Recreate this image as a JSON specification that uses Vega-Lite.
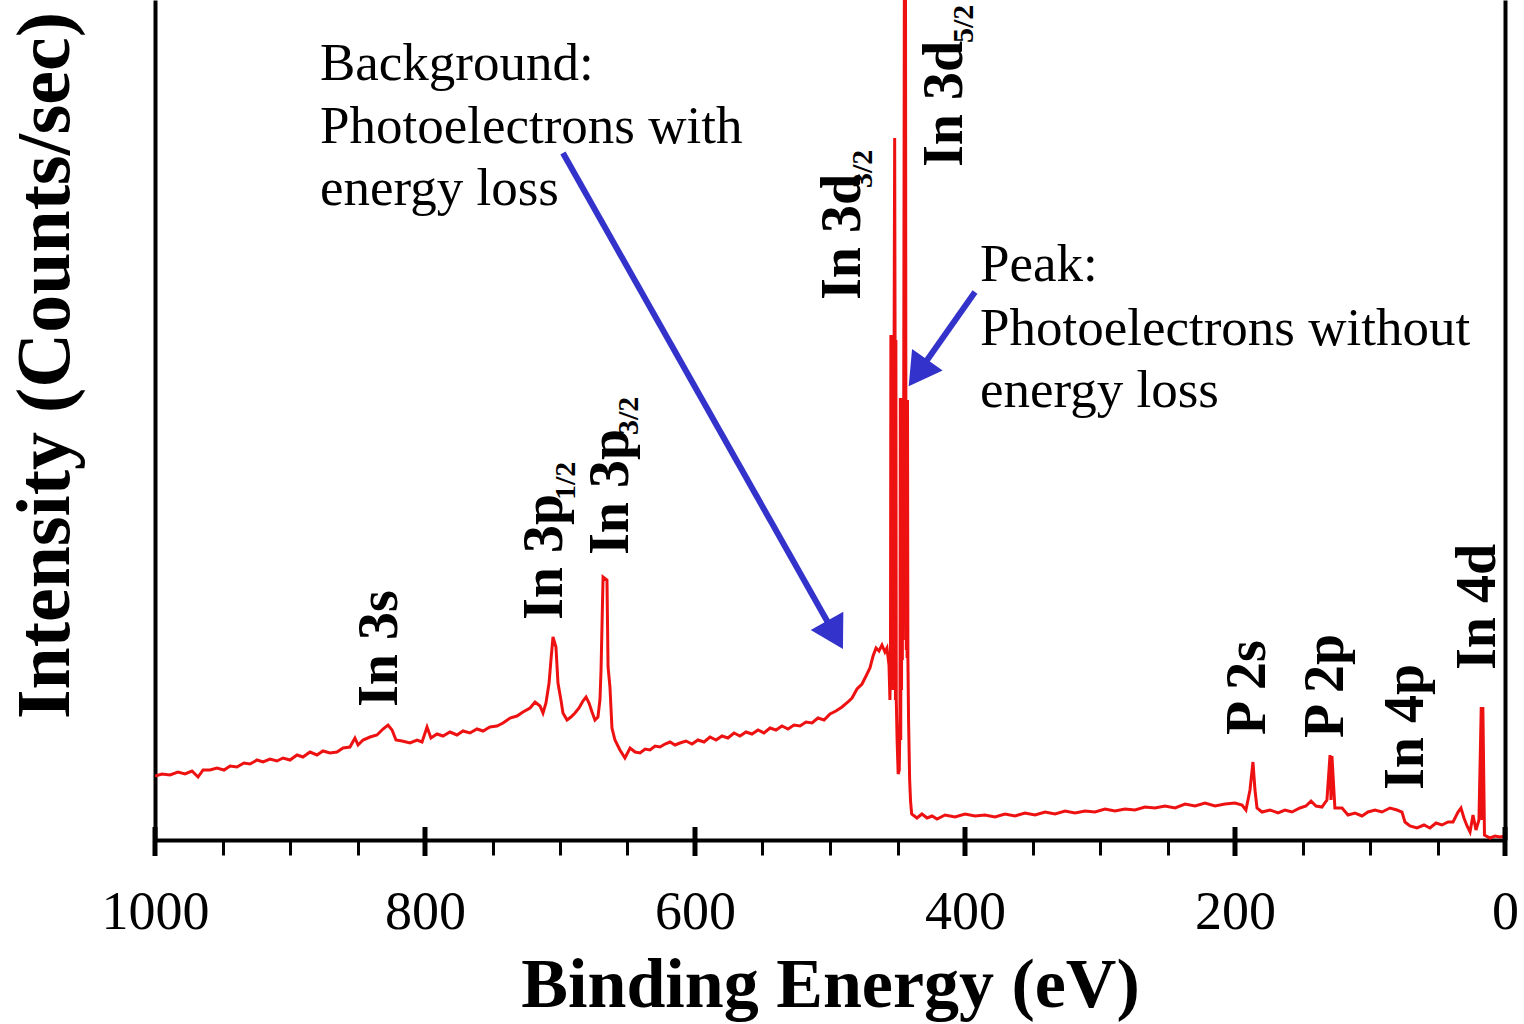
{
  "$schema": "https://vega.github.io/schema/vega-lite/v6.json",
  "width": 1350,
  "height": 840,
  "autosize": {"type": "none"},
  "padding": {"left": 155, "top": 0, "right": 19, "bottom": 184},
  "background": "white",
  "config": {"view": {"stroke": null}, "font": "Liberation Serif"},
  "datasets": {
    "spectrum": [
      {"energy": 1000.0, "intensity": 64}, {"energy": 994.8, "intensity": 66}, {"energy": 988.9, "intensity": 65},
      {"energy": 983.0, "intensity": 68}, {"energy": 977.8, "intensity": 66}, {"energy": 972.6, "intensity": 69},
      {"energy": 968.1, "intensity": 63}, {"energy": 964.4, "intensity": 70}, {"energy": 959.3, "intensity": 70},
      {"energy": 954.1, "intensity": 72}, {"energy": 948.9, "intensity": 70}, {"energy": 944.4, "intensity": 74},
      {"energy": 939.3, "intensity": 73}, {"energy": 934.1, "intensity": 77}, {"energy": 929.6, "intensity": 76},
      {"energy": 924.4, "intensity": 80}, {"energy": 920.0, "intensity": 78}, {"energy": 914.8, "intensity": 81},
      {"energy": 909.6, "intensity": 79}, {"energy": 905.2, "intensity": 82}, {"energy": 900.0, "intensity": 80},
      {"energy": 894.8, "intensity": 85}, {"energy": 890.4, "intensity": 83}, {"energy": 885.2, "intensity": 88},
      {"energy": 880.0, "intensity": 85}, {"energy": 875.6, "intensity": 89}, {"energy": 870.4, "intensity": 87},
      {"energy": 865.2, "intensity": 88}, {"energy": 860.7, "intensity": 92}, {"energy": 855.6, "intensity": 93},
      {"energy": 851.9, "intensity": 102}, {"energy": 849.6, "intensity": 95}, {"energy": 845.9, "intensity": 100},
      {"energy": 840.7, "intensity": 103}, {"energy": 835.6, "intensity": 105}, {"energy": 831.1, "intensity": 111},
      {"energy": 827.4, "intensity": 115}, {"energy": 824.4, "intensity": 110}, {"energy": 821.5, "intensity": 100},
      {"energy": 817.0, "intensity": 99}, {"energy": 811.1, "intensity": 97}, {"energy": 805.9, "intensity": 100},
      {"energy": 802.2, "intensity": 98}, {"energy": 798.5, "intensity": 113}, {"energy": 795.6, "intensity": 102},
      {"energy": 791.1, "intensity": 106}, {"energy": 786.7, "intensity": 104}, {"energy": 781.5, "intensity": 108},
      {"energy": 776.3, "intensity": 105}, {"energy": 771.9, "intensity": 109}, {"energy": 766.7, "intensity": 107},
      {"energy": 761.5, "intensity": 111}, {"energy": 757.0, "intensity": 109}, {"energy": 751.9, "intensity": 113},
      {"energy": 746.7, "intensity": 114}, {"energy": 742.2, "intensity": 117}, {"energy": 737.0, "intensity": 122},
      {"energy": 731.9, "intensity": 124}, {"energy": 727.4, "intensity": 128}, {"energy": 722.2, "intensity": 132},
      {"energy": 718.5, "intensity": 138}, {"energy": 714.8, "intensity": 134}, {"energy": 712.6, "intensity": 127},
      {"energy": 710.4, "intensity": 137}, {"energy": 708.1, "intensity": 157}, {"energy": 706.7, "intensity": 180},
      {"energy": 705.2, "intensity": 203}, {"energy": 703.0, "intensity": 193}, {"energy": 701.5, "intensity": 157},
      {"energy": 699.3, "intensity": 140}, {"energy": 697.8, "intensity": 127}, {"energy": 694.8, "intensity": 120},
      {"energy": 691.9, "intensity": 123}, {"energy": 688.9, "intensity": 127}, {"energy": 685.9, "intensity": 132},
      {"energy": 683.0, "intensity": 139}, {"energy": 680.7, "intensity": 143}, {"energy": 678.5, "intensity": 137},
      {"energy": 676.3, "intensity": 128}, {"energy": 674.1, "intensity": 120}, {"energy": 671.9, "intensity": 123},
      {"energy": 670.4, "intensity": 140}, {"energy": 669.6, "intensity": 170}, {"energy": 668.1, "intensity": 263},
      {"energy": 665.2, "intensity": 260}, {"energy": 664.4, "intensity": 173}, {"energy": 663.0, "intensity": 153},
      {"energy": 661.5, "intensity": 112}, {"energy": 659.3, "intensity": 100}, {"energy": 655.6, "intensity": 90},
      {"energy": 651.9, "intensity": 82}, {"energy": 648.1, "intensity": 92}, {"energy": 644.4, "intensity": 88},
      {"energy": 640.7, "intensity": 87}, {"energy": 637.0, "intensity": 91}, {"energy": 633.3, "intensity": 90},
      {"energy": 629.6, "intensity": 94}, {"energy": 625.9, "intensity": 93}, {"energy": 622.2, "intensity": 96},
      {"energy": 618.5, "intensity": 98}, {"energy": 614.8, "intensity": 95}, {"energy": 611.1, "intensity": 97},
      {"energy": 606.7, "intensity": 99}, {"energy": 602.2, "intensity": 96}, {"energy": 597.8, "intensity": 100},
      {"energy": 593.3, "intensity": 98}, {"energy": 588.9, "intensity": 103}, {"energy": 584.4, "intensity": 100},
      {"energy": 580.0, "intensity": 104}, {"energy": 575.6, "intensity": 102}, {"energy": 571.1, "intensity": 107},
      {"energy": 566.7, "intensity": 104}, {"energy": 562.2, "intensity": 108}, {"energy": 557.8, "intensity": 106},
      {"energy": 553.3, "intensity": 110}, {"energy": 548.9, "intensity": 107}, {"energy": 544.4, "intensity": 112},
      {"energy": 540.0, "intensity": 110}, {"energy": 535.6, "intensity": 114}, {"energy": 531.1, "intensity": 111},
      {"energy": 526.7, "intensity": 115}, {"energy": 522.2, "intensity": 114}, {"energy": 517.8, "intensity": 118},
      {"energy": 513.3, "intensity": 117}, {"energy": 508.9, "intensity": 122}, {"energy": 504.4, "intensity": 120},
      {"energy": 500.0, "intensity": 126}, {"energy": 495.6, "intensity": 129}, {"energy": 491.1, "intensity": 133},
      {"energy": 486.7, "intensity": 138}, {"energy": 483.7, "intensity": 142}, {"energy": 480.0, "intensity": 151},
      {"energy": 476.3, "intensity": 156}, {"energy": 473.3, "intensity": 164}, {"energy": 470.4, "intensity": 172},
      {"energy": 468.1, "intensity": 184}, {"energy": 465.9, "intensity": 192}, {"energy": 463.7, "intensity": 189},
      {"energy": 461.5, "intensity": 195}, {"energy": 459.3, "intensity": 188}, {"energy": 457.8, "intensity": 192},
      {"energy": 456.3, "intensity": 175}, {"energy": 455.6, "intensity": 140}, {"energy": 455.2, "intensity": 175},
      {"energy": 454.9, "intensity": 505}, {"energy": 454.6, "intensity": 150}, {"energy": 454.3, "intensity": 505},
      {"energy": 454.0, "intensity": 160}, {"energy": 453.7, "intensity": 500}, {"energy": 453.4, "intensity": 150},
      {"energy": 453.1, "intensity": 505}, {"energy": 452.8, "intensity": 200}, {"energy": 452.5, "intensity": 505},
      {"energy": 452.1, "intensity": 702}, {"energy": 451.8, "intensity": 500}, {"energy": 451.5, "intensity": 140},
      {"energy": 451.2, "intensity": 500}, {"energy": 450.9, "intensity": 140}, {"energy": 450.3, "intensity": 100},
      {"energy": 449.5, "intensity": 66}, {"energy": 448.7, "intensity": 70}, {"energy": 448.2, "intensity": 120},
      {"energy": 447.9, "intensity": 442}, {"energy": 447.6, "intensity": 100}, {"energy": 447.3, "intensity": 440},
      {"energy": 447.0, "intensity": 150}, {"energy": 446.7, "intensity": 442}, {"energy": 446.4, "intensity": 180},
      {"energy": 446.1, "intensity": 440}, {"energy": 445.8, "intensity": 200}, {"energy": 445.4, "intensity": 442},
      {"energy": 444.7, "intensity": 1040}, {"energy": 444.2, "intensity": 1040}, {"energy": 443.8, "intensity": 442},
      {"energy": 443.5, "intensity": 190}, {"energy": 443.2, "intensity": 440}, {"energy": 442.9, "intensity": 182},
      {"energy": 442.6, "intensity": 440}, {"energy": 442.3, "intensity": 182}, {"energy": 441.8, "intensity": 120},
      {"energy": 441.0, "intensity": 60}, {"energy": 440.3, "intensity": 38}, {"energy": 439.5, "intensity": 26},
      {"energy": 435.6, "intensity": 22},
      {"energy": 431.9, "intensity": 26}, {"energy": 428.1, "intensity": 22}, {"energy": 424.4, "intensity": 24},
      {"energy": 420.7, "intensity": 21}, {"energy": 414.8, "intensity": 25}, {"energy": 407.4, "intensity": 23},
      {"energy": 400.0, "intensity": 26}, {"energy": 392.6, "intensity": 24}, {"energy": 385.2, "intensity": 25},
      {"energy": 377.8, "intensity": 23}, {"energy": 370.4, "intensity": 26}, {"energy": 363.0, "intensity": 24},
      {"energy": 355.6, "intensity": 27}, {"energy": 348.1, "intensity": 25}, {"energy": 340.7, "intensity": 28},
      {"energy": 333.3, "intensity": 26}, {"energy": 325.9, "intensity": 29}, {"energy": 318.5, "intensity": 27},
      {"energy": 311.1, "intensity": 29}, {"energy": 303.7, "intensity": 28}, {"energy": 296.3, "intensity": 31},
      {"energy": 288.9, "intensity": 29}, {"energy": 281.5, "intensity": 31}, {"energy": 274.1, "intensity": 30},
      {"energy": 266.7, "intensity": 33}, {"energy": 259.3, "intensity": 32}, {"energy": 251.9, "intensity": 34},
      {"energy": 244.4, "intensity": 32}, {"energy": 237.0, "intensity": 36}, {"energy": 229.6, "intensity": 34},
      {"energy": 222.2, "intensity": 37}, {"energy": 214.8, "intensity": 34}, {"energy": 207.4, "intensity": 36},
      {"energy": 200.0, "intensity": 37}, {"energy": 194.8, "intensity": 35}, {"energy": 191.9, "intensity": 30},
      {"energy": 188.9, "intensity": 50}, {"energy": 186.7, "intensity": 78}, {"energy": 185.2, "intensity": 50},
      {"energy": 183.7, "intensity": 32}, {"energy": 180.0, "intensity": 28}, {"energy": 174.1, "intensity": 30},
      {"energy": 168.1, "intensity": 27}, {"energy": 163.0, "intensity": 30}, {"energy": 157.8, "intensity": 28},
      {"energy": 151.9, "intensity": 32}, {"energy": 147.4, "intensity": 34}, {"energy": 143.7, "intensity": 39},
      {"energy": 140.0, "intensity": 34}, {"energy": 135.6, "intensity": 33}, {"energy": 131.9, "intensity": 40},
      {"energy": 129.6, "intensity": 85}, {"energy": 128.9, "intensity": 40}, {"energy": 128.2, "intensity": 84},
      {"energy": 126.0, "intensity": 32},
      {"energy": 120.7, "intensity": 32}, {"energy": 116.3, "intensity": 25}, {"energy": 111.1, "intensity": 27},
      {"energy": 105.9, "intensity": 24}, {"energy": 101.5, "intensity": 28}, {"energy": 96.3, "intensity": 30},
      {"energy": 91.1, "intensity": 28}, {"energy": 85.2, "intensity": 32}, {"energy": 80.0, "intensity": 30},
      {"energy": 76.3, "intensity": 28}, {"energy": 74.1, "intensity": 18}, {"energy": 70.4, "intensity": 14},
      {"energy": 65.2, "intensity": 12}, {"energy": 60.0, "intensity": 15}, {"energy": 55.6, "intensity": 12},
      {"energy": 51.1, "intensity": 17}, {"energy": 46.7, "intensity": 15}, {"energy": 42.2, "intensity": 18},
      {"energy": 38.5, "intensity": 18}, {"energy": 34.8, "intensity": 28}, {"energy": 32.6, "intensity": 32},
      {"energy": 30.4, "intensity": 22}, {"energy": 28.1, "intensity": 14}, {"energy": 25.9, "intensity": 8},
      {"energy": 23.7, "intensity": 25}, {"energy": 21.5, "intensity": 10}, {"energy": 19.3, "intensity": 20},
      {"energy": 17.6, "intensity": 133}, {"energy": 17.0, "intensity": 20}, {"energy": 16.4, "intensity": 133},
      {"energy": 15.2, "intensity": 5},
      {"energy": 11.1, "intensity": 2}, {"energy": 7.4, "intensity": 4}, {"energy": 3.7, "intensity": 3},
      {"energy": 0.0, "intensity": 4}
    ],
    "peaks": [
      {"label": "In 3s", "energy": 820.7, "intensity": 133},
      {"label": "In 3p", "energy": 698.5, "intensity": 220},
      {"label": "In 3p", "energy": 649.6, "intensity": 285},
      {"label": "In 3d", "energy": 477.8, "intensity": 540},
      {"label": "In 3d", "energy": 402.2, "intensity": 673},
      {"label": "P 2s", "energy": 177.8, "intensity": 105},
      {"label": "P 2p", "energy": 120.0, "intensity": 102},
      {"label": "In 4p", "energy": 60.7, "intensity": 50},
      {"label": "In 4d", "energy": 7.4, "intensity": 170}
    ],
    "subs": [
      {"label": "1/2", "energy": 688.9, "intensity": 340},
      {"label": "3/2", "energy": 642.2, "intensity": 405},
      {"label": "3/2", "energy": 468.9, "intensity": 652},
      {"label": "5/2", "energy": 394.1, "intensity": 797}
    ],
    "notes": [
      {"text": "Background:", "energy": 877.8, "intensity": 760},
      {"text": "Photoelectrons with", "energy": 877.8, "intensity": 697},
      {"text": "energy loss", "energy": 877.8, "intensity": 635},
      {"text": "Peak:", "energy": 388.9, "intensity": 559},
      {"text": "Photoelectrons without", "energy": 388.9, "intensity": 495},
      {"text": "energy loss", "energy": 388.9, "intensity": 433}
    ],
    "arrows": [
      {"arrow": "background", "x1": 697.8, "y1": 687, "x2": 496.3, "y2": 205},
      {"arrow": "peak", "x1": 392.6, "y1": 548, "x2": 434.8, "y2": 467}
    ],
    "majors": [
      {"energy": 1000}, {"energy": 800}, {"energy": 600}, {"energy": 400}, {"energy": 200}, {"energy": 0}
    ]
  },
  "resolve": {"axis": {"y": "independent"}},
  "layer": [
    {
      "data": {"name": "spectrum"},
      "mark": {"type": "line", "color": "#ee1111", "strokeWidth": 3, "clip": true},
      "encoding": {
        "x": {
          "field": "energy", "type": "quantitative",
          "scale": {"domain": [0, 1000], "reverse": true, "nice": false, "zero": false},
          "axis": {
            "orient": "bottom",
            "values": [0, 50, 100, 150, 200, 250, 300, 350, 400, 450, 500, 550, 600, 650, 700, 750, 800, 850, 900, 950, 1000],
            "format": "d",
            "labelExpr": "datum.value % 200 === 0 ? datum.label : ''",
            "labelFlush": false, "labelOverlap": false,
            "labelFont": "Liberation Serif", "labelFontSize": 54, "labelColor": "black", "labelPadding": 30,
            "tickSize": 15, "tickWidth": 3, "tickColor": "black",
            "domainColor": "black", "domainWidth": 4, "grid": false,
            "title": "Binding Energy (eV)",
            "titleFont": "Liberation Serif", "titleFontSize": 70, "titleFontWeight": "bold", "titleColor": "black",
            "titleBaseline": "alphabetic", "titleY": 166
          }
        },
        "y": {
          "field": "intensity", "type": "quantitative",
          "scale": {"domain": [0, 840], "nice": false, "zero": false},
          "axis": {
            "orient": "left", "labels": false, "ticks": false, "grid": false,
            "domainColor": "black", "domainWidth": 4,
            "title": "Intensity (Counts/sec)",
            "titleFont": "Liberation Serif", "titleFontSize": 76, "titleFontWeight": "bold", "titleColor": "black",
            "titleAngle": 270, "titleAlign": "center", "titleBaseline": "alphabetic",
            "titleX": -87, "titleY": 365
          }
        }
      }
    },
    {
      "data": {"name": "majors"},
      "mark": {"type": "rule", "color": "black", "strokeWidth": 5},
      "encoding": {
        "x": {"field": "energy", "type": "quantitative"},
        "y": {"datum": -16, "type": "quantitative", "axis": null},
        "y2": {"datum": 13}
      }
    },
    {
      "data": {"name": "arrows"},
      "mark": {"type": "rule", "color": "#3333cc", "strokeWidth": 6},
      "encoding": {
        "x": {"field": "x1", "type": "quantitative"},
        "y": {"field": "y1", "type": "quantitative", "axis": null},
        "x2": {"field": "x2"},
        "y2": {"field": "y2"}
      }
    },
    {
      "data": {"name": "arrows"},
      "transform": [{"filter": "datum.arrow === 'background'"}],
      "mark": {"type": "point", "shape": "triangle-down", "filled": true, "color": "#3333cc", "opacity": 1, "size": 1400, "angle": 330.6},
      "encoding": {
        "x": {"field": "x2", "type": "quantitative"},
        "y": {"field": "y2", "type": "quantitative", "axis": null}
      }
    },
    {
      "data": {"name": "arrows"},
      "transform": [{"filter": "datum.arrow === 'peak'"}],
      "mark": {"type": "point", "shape": "triangle-down", "filled": true, "color": "#3333cc", "opacity": 1, "size": 1400, "angle": 35.2},
      "encoding": {
        "x": {"field": "x2", "type": "quantitative"},
        "y": {"field": "y2", "type": "quantitative", "axis": null}
      }
    },
    {
      "data": {"name": "peaks"},
      "mark": {"type": "text", "angle": 270, "align": "left", "baseline": "alphabetic", "font": "Liberation Serif", "fontWeight": "bold", "fontSize": 56, "color": "black"},
      "encoding": {
        "x": {"field": "energy", "type": "quantitative"},
        "y": {"field": "intensity", "type": "quantitative", "axis": null},
        "text": {"field": "label"}
      }
    },
    {
      "data": {"name": "subs"},
      "mark": {"type": "text", "angle": 270, "align": "left", "baseline": "alphabetic", "font": "Liberation Serif", "fontWeight": "bold", "fontSize": 30, "color": "black"},
      "encoding": {
        "x": {"field": "energy", "type": "quantitative"},
        "y": {"field": "intensity", "type": "quantitative", "axis": null},
        "text": {"field": "label"}
      }
    },
    {
      "data": {"name": "notes"},
      "mark": {"type": "text", "align": "left", "baseline": "alphabetic", "font": "Liberation Serif", "fontSize": 53, "color": "black"},
      "encoding": {
        "x": {"field": "energy", "type": "quantitative"},
        "y": {
          "field": "intensity", "type": "quantitative",
          "axis": {"orient": "right", "labels": false, "ticks": false, "grid": false, "title": null, "domainColor": "black", "domainWidth": 4}
        },
        "text": {"field": "text"}
      }
    }
  ]
}
